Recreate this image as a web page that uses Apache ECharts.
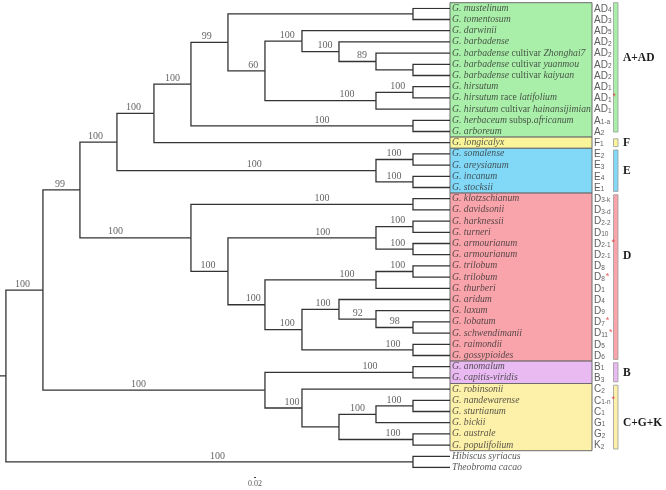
<!DOCTYPE html>
<html><head><meta charset="utf-8">
<script src="https://cdn.jsdelivr.net/npm/echarts@6/dist/echarts.min.js"></script>
<style>html,body{margin:0;padding:0;background:#fff}#c{width:666px;height:490px}</style>
</head><body><div id="c"></div>
<script>
// ---- DATA ----
// leaf names; text between ~ ~ is upright (roman), the rest italic
const leafNames = [
  'G. mustelinum','G. tomentosum','G. darwinii','G. barbadense',
  'G. barbadense ~cultivar~ Zhonghai7','G. barbadense ~cultivar~ yuanmou','G. barbadense ~cultivar~ kaiyuan',
  'G. hirsutum','G. hirsutum ~race~ latifolium','G. hirsutum ~cultivar~ hainansijimian',
  'G. herbaceum ~subsp.~africanum','G. arboreum','G. longicalyx',
  'G. somalense','G. areysianum','G. incanum','G. stocksii',
  'G. klotzschianum','G. davidsonii','G. harknessii','G. turneri','G. armourianum','G. armourianum',
  'G. trilobum','G. trilobum','G. thurberi','G. aridum','G. laxum','G. lobatum','G. schwendimanii',
  'G. raimondii','G. gossypioides','G. anomalum','G. capitis-viridis',
  'G. robinsonii','G. nandewarense','G. sturtianum','G. bickii','G. australe','G. populifolium',
  'Hibiscus syriacus','Theobroma cacao'
];
// genome labels: base_subscript
const genomes = [
  'AD_4','AD_3','AD_5','AD_2','AD_2','AD_2','AD_2','AD_1','AD_1','AD_1','A_1-a','A_2','F_1',
  'E_2','E_3','E_4','E_1','D_3-k','D_3-d','D_2-2','D_10','D_2-1','D_2-1','D_8','D_8','D_1','D_4','D_9',
  'D_7','D_11','D_5','D_6','B_1','B_3','C_2','C_1-n','C_1','G_1','G_2','K_2','',''
];
const markedLeaves = [8, 21, 24, 28, 29, 35];
// topology: [bootstrap, child, child]; numbers are leaf indices
const tree = [null,
  [100,
    [99,
      [100,
        [100,
          [100,
            [99, [null, 0, 1],
                 [60, [100, 2, [100, 3, [89, 4, [null, 5, 6]]]],
                      [100, [100, 7, 8], 9]]],
            [100, 10, 11]],
          12],
        [100, [100, 13, 14], [100, 15, 16]]],
      [100, [100, 17, 18],
            [100, [100, [100, 19, 20], [100, 21, 22]],
                  [100, [100, [100, 23, 24], 25],
                        [100, [100, 26, [92, 27, [98, 28, 29]]], [100, 30, 31]]]]]],
    [100, [100, 32, 33], [100, 34, [null, [100, [100, 35, 36], 37], [100, 38, 39]]]]],
  [100, 40, 41]
];
const groupNames = ['A+AD', 'F', 'E', 'D', 'B', 'C+G+K'];
const groupStart = [0, 12, 13, 17, 32, 34];
const groupEnd   = [11, 12, 16, 31, 33, 39];

// ---- STYLE / LAYOUT ----
const groupFill = ['#a9efa9', '#faf59a', '#82d8f7', '#f9a4ab', '#e8baf1', '#fdf0a9'];
const groupLabelAt = [4.4, 12, 14.5, 22.1, 32.6, 37.0];
// fraction along branch (from parent) at which each bootstrap label sits, in DFS order
const supportFrac = [0.45,0.46,0.42,0.45,0.5,0.43,0.68,0.6,0.62,0.62,0.74,0.59,0.59,0.53,0.49,0.49,
  0.32,0.59,0.46,0.64,0.59,0.59,0.68,0.74,0.59,0.6,0.57,0.51,0.51,0.82,0.43,0.71,0.73,0.5,0.49,0.73,0.52];
const ink = '#333';

// ---- layout computation ----
const edges = [];
const supports = [];
function layout(node) {
  if (typeof node === 'number') return { h: 0, y: node };
  const kids = node.slice(1).map(layout);
  const h = Math.max(...kids.map(k => k.h)) + 1;
  const y = (kids[0].y + kids[kids.length - 1].y) / 2;
  return { h, y, kids, sup: node[0] };
}
const root = layout(tree);
let supIdx = 0;
function walk(n, parent) {
  if (parent) {
    edges.push({ coords: [[parent.h, parent.y], [parent.h, n.y], [n.h, n.y]] });
    if (n.sup != null) {
      const f = supportFrac[supIdx++] ?? 0.5;
      supports.push([parent.h - (parent.h - n.h) * f, n.y, String(n.sup)]);
    }
  }
  if (n.kids) n.kids.forEach(k => walk(k, n));
}
walk(root, null);
const ROOT_EXT = 12.16;
edges.push({ coords: [[ROOT_EXT, root.y], [root.h, root.y]] });

function richName(s) {
  return s.split('~').map((p, i) => p ? '{' + (i % 2 ? 'r' : 'i') + '|' + p + '}' : '').join('');
}
function richGenome(g, idx) {
  if (!g) return '';
  const [b, s] = g.split('_');
  let t = '{m|' + b + '}{s|' + s + '}';
  if (markedLeaves.includes(idx)) t += '{a|*}';
  return t;
}

const chart = echarts.init(document.getElementById('c'), null, { renderer: 'canvas' });
const serifFont = '"Liberation Serif","Times New Roman",serif';
chart.setOption({
  animation: false,
  backgroundColor: '#fff',
  grid: { left: 0, top: 8.3, width: 450, height: 459.2 },
  xAxis: { type: 'value', min: 0, max: ROOT_EXT, inverse: true, show: false },
  yAxis: { type: 'value', min: 0, max: 41, inverse: true, show: false },
  series: [
    {
      type: 'custom', clip: false, z: 1, silent: true,
      data: groupStart.map((s, i) => [s, groupEnd[i]]),
      renderItem: function (params, api) {
        const i = params.dataIndex;
        const s = api.value(0), e = api.value(1);
        const top = api.coord([0, s - 0.5]);
        const bot = api.coord([0, e + 0.5]);
        const bTop = api.coord([0, s - (i === 0 ? 0.5 : 0.35)]);
        const bBot = api.coord([0, e + (i === 0 ? 0.05 : 0.35)]);
        const ly = api.coord([0, groupLabelAt[i]])[1];
        return {
          type: 'group',
          children: [
            { type: 'rect', shape: { x: top[0], y: top[1], width: 142, height: bot[1] - top[1] },
              style: { fill: groupFill[i], stroke: '#6b6b6b', lineWidth: 1 } },
            { type: 'rect', shape: { x: 613.5, y: bTop[1], width: 4.5, height: bBot[1] - bTop[1] },
              style: { fill: groupFill[i], stroke: '#9a9a9a', lineWidth: 0.8 } },
            { type: 'text', x: 623, y: ly,
              style: { text: groupNames[i], font: 'bold 11.5px ' + serifFont, fill: '#1a1a1a',
                       align: 'left', verticalAlign: 'middle' } }
          ]
        };
      }
    },
    {
      type: 'lines', coordinateSystem: 'cartesian2d', polyline: true, z: 2, silent: true,
      lineStyle: { color: ink, width: 1.3, opacity: 1 },
      data: edges
    },
    {
      type: 'scatter', symbolSize: 0, z: 3, silent: true,
      data: supports,
      label: {
        show: true, position: 'top', distance: 1,
        formatter: p => p.value[2],
        fontFamily: serifFont, fontSize: 10, color: '#3a3a3a'
      }
    },
    {
      type: 'scatter', symbolSize: 0, z: 3, silent: true,
      data: leafNames.map((n, i) => [0, i]),
      label: {
        show: true, position: 'right', distance: 2,
        formatter: p => richName(leafNames[p.dataIndex]),
        rich: {
          i: { fontFamily: serifFont, fontStyle: 'italic', fontSize: 9.7, color: '#2e2e2e' },
          r: { fontFamily: serifFont, fontSize: 9.7, color: '#2e2e2e' }
        }
      }
    },
    {
      type: 'scatter', symbolSize: 0, z: 3, silent: true,
      data: genomes.map((g, i) => [0, i]),
      label: {
        show: true, position: 'right', distance: 144,
        formatter: p => richGenome(genomes[p.dataIndex], p.dataIndex),
        rich: {
          m: { fontFamily: '"Liberation Sans",Arial,sans-serif', fontSize: 10, color: '#333', lineHeight: 11, verticalAlign: 'bottom' },
          s: { fontFamily: '"Liberation Sans",Arial,sans-serif', fontSize: 6.5, color: '#333', lineHeight: 7, verticalAlign: 'bottom' },
          a: { fontFamily: '"Liberation Sans",Arial,sans-serif', fontSize: 9, color: '#e03030', lineHeight: 11, verticalAlign: 'top', padding: [0, 0, 0, 1] }
        }
      }
    }
  ],
  graphic: [
    { type: 'line', shape: { x1: 254, y1: 477.5, x2: 256, y2: 477.5 }, style: { stroke: '#444', lineWidth: 1 } },
    { type: 'text', x: 255, y: 484, style: { text: '0.02', font: '8px ' + serifFont, fill: '#555', align: 'center', verticalAlign: 'middle' } }
  ]
});
</script>
</body></html>
